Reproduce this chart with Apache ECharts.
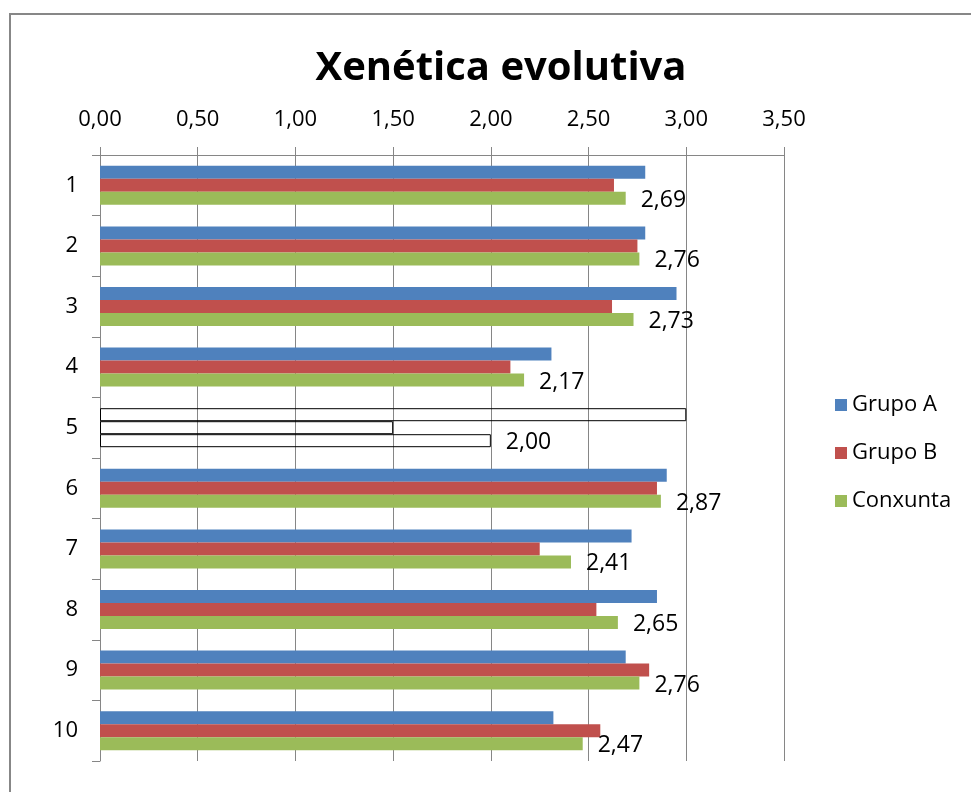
<!DOCTYPE html>
<html><head><meta charset="utf-8">
<script src="https://cdn.jsdelivr.net/npm/echarts@6/dist/echarts.min.js"></script>
<style>html,body{margin:0;padding:0;background:#fff}#c{width:971px;height:792px}</style>
</head><body><div id="c"></div>
<script>
const categories = ['1','2','3','4','5','6','7','8','9','10'];
const grupoA   = [2.79, 2.79, 2.95, 2.31, 3.00, 2.90, 2.72, 2.85, 2.69, 2.32];
const grupoB   = [2.63, 2.75, 2.62, 2.10, 1.50, 2.85, 2.25, 2.54, 2.81, 2.56];
const conxunta = [2.69, 2.76, 2.73, 2.17, 2.00, 2.87, 2.41, 2.65, 2.76, 2.47];
const seriesNames = ['Grupo A', 'Grupo B', 'Conxunta'];
const colors = ['#4F81BD', '#C0504D', '#9BBB59'];
const hollowIndex = 4; // category "5" drawn as unfilled bars with black outline

const FONT = '"Open Sans", "Liberation Sans", sans-serif';
const fmt = v => Number(v).toFixed(2).replace('.', ',');

function mkData(arr) {
  return arr.map((v, i) => i === hollowIndex
    ? { value: v, itemStyle: { color: 'rgba(255,255,255,0)', borderColor: '#000000', borderWidth: 1 } }
    : v);
}

const chart = echarts.init(document.getElementById('c'), null, { renderer: 'canvas' });
const allData = [grupoA, grupoB, conxunta];
chart.setOption({
  animation: false,
  backgroundColor: '#fff',
  graphic: [{
    type: 'rect', shape: { x: 10, y: 14, width: 1000, height: 820 },
    style: { fill: 'none', stroke: '#878787', lineWidth: 2 }, silent: true, z: -1
  }],
  title: {
    text: 'Xenética evolutiva', left: 496, top: 44, textAlign: 'center',
    textStyle: { fontFamily: FONT, fontWeight: 'bold', fontSize: 40, color: '#000' }
  },
  legend: {
    orient: 'vertical', left: 830, top: 388, itemWidth: 12, itemHeight: 12, itemGap: 24,
    icon: 'rect',
    textStyle: { fontFamily: FONT, fontSize: 22, color: '#000', lineHeight: 24 },
    data: seriesNames
  },
  grid: { left: 100, top: 155, width: 684, height: 606, containLabel: false },
  xAxis: {
    type: 'value', position: 'top', min: 0, max: 3.5, interval: 0.5,
    axisLine: { show: true, lineStyle: { color: '#868686' } },
    axisTick: { show: true, length: 8, lineStyle: { color: '#868686' } },
    axisLabel: { formatter: fmt, fontFamily: FONT, fontSize: 22, color: '#000', margin: 24 },
    splitLine: { show: true, lineStyle: { color: '#868686' } }
  },
  yAxis: {
    type: 'category', inverse: true, data: categories,
    axisLine: { show: true, lineStyle: { color: '#868686' } },
    axisTick: { show: true, length: 8, lineStyle: { color: '#868686' } },
    axisLabel: { fontFamily: FONT, fontSize: 22, color: '#000', margin: 22 }
  },
  series: allData.map((arr, k) => ({
    name: seriesNames[k], type: 'bar', data: mkData(arr),
    barWidth: 13, barGap: '0%', itemStyle: { color: colors[k] },
    label: k === 2 ? {
      show: true, position: 'right', distance: 15, offset: [0, 2], formatter: p => fmt(p.value),
      fontFamily: FONT, fontSize: 23, color: '#000'
    } : { show: false }
  }))
});
</script></body></html>
